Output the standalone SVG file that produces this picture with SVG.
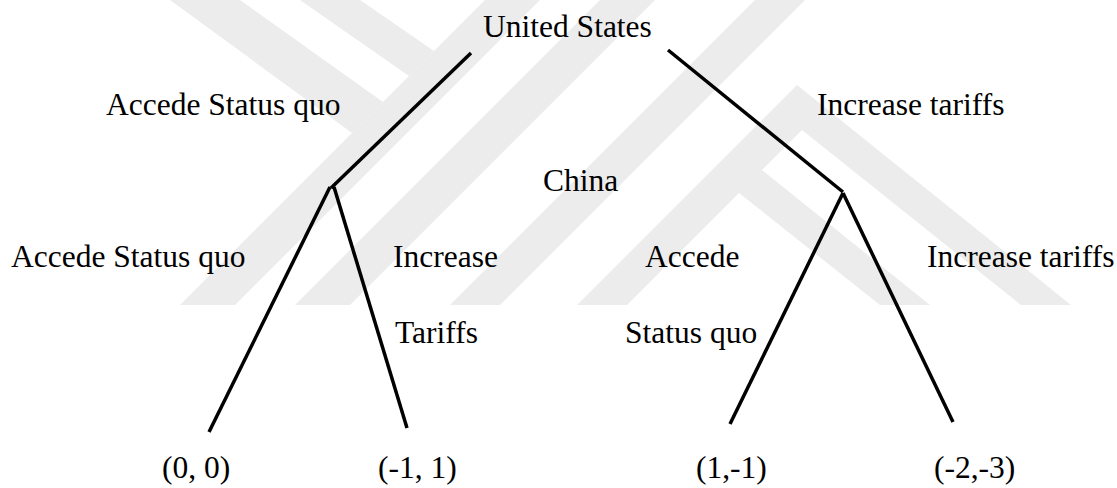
<svg xmlns="http://www.w3.org/2000/svg" width="1117" height="488" viewBox="0 0 1117 488">
<style>
.wm{fill:#ececec;stroke:none}
.edge{stroke:#000;stroke-width:3.5;fill:none;stroke-linecap:butt}
.t{font-family:'Liberation Serif','Times New Roman','DejaVu Serif',serif;font-size:31.5px;fill:#000}
</style>
<rect width="1117" height="488" fill="#fff"/>
<g id="watermark">
<polygon class="wm" points="180,305 235,305 540,0 485,0"/>
<polygon class="wm" points="295,305 350,305 655,0 600,0"/>
<polygon class="wm" points="450,305 500,305 805,0 755,0"/>
<polygon class="wm" points="170,0 240,0 383,102 352,133"/>
<polygon class="wm" points="300,0 360,0 434,51 409,76"/>
<polygon class="wm" points="577,305 797,85 1071,305 1021,305 802,130 627,305"/>
<polygon class="wm" points="739,193 880,305 930,305 762,170"/>
</g>
<g id="connectors">
<line class="edge" x1="471" y1="53" x2="331" y2="188"/>
<line class="edge" x1="668" y1="50" x2="843" y2="192"/>
<line class="edge" x1="330" y1="187" x2="209" y2="432"/>
<line class="edge" x1="334" y1="187" x2="407" y2="428"/>
<line class="edge" x1="843" y1="193" x2="730" y2="424"/>
<line class="edge" x1="843" y1="193" x2="953" y2="422"/>
</g>
<g class="t" font-family="Liberation Serif, Times New Roman, serif" font-size="31.5">
<g id="node-us"><text x="483" y="37">United States</text></g>
<g id="label-us-left"><text x="106" y="115">Accede Status quo</text></g>
<g id="label-us-right"><text x="817" y="115">Increase tariffs</text></g>
<g id="node-china"><text x="543" y="191">China</text></g>
<g id="label-china-left-accede"><text x="11" y="267">Accede Status quo</text></g>
<g id="label-china-left-increase">
<text x="393" y="267">Increase</text>
<text x="395" y="343">Tariffs</text>
</g>
<g id="label-china-right-accede">
<text x="645" y="267">Accede</text>
<text x="625" y="343">Status quo</text>
</g>
<g id="label-china-right-increase"><text x="927" y="267">Increase tariffs</text></g>
<g id="leaf-1"><text x="162" y="478">(0, 0)</text></g>
<g id="leaf-2"><text x="378" y="478">(-1, 1)</text></g>
<g id="leaf-3"><text x="696" y="478">(1,-1)</text></g>
<g id="leaf-4"><text x="934" y="478">(-2,-3)</text></g>
</g>
</svg>
